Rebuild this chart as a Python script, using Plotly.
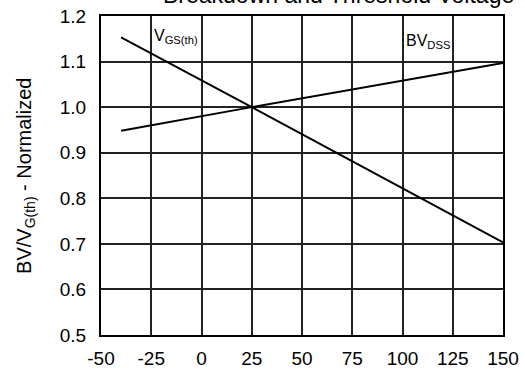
import plotly.graph_objects as go

temp = [-40, 25, 150]
vgs_th = [1.153, 1.0, 0.703]
bv_dss = [0.948, 1.0, 1.097]
x_ticks = [-50, -25, 0, 25, 50, 75, 100, 125, 150]
y_ticks = [0.5, 0.6, 0.7, 0.8, 0.9, 1.0, 1.1, 1.2]

FONT = "Liberation Sans, Arial, sans-serif"

fig = go.Figure()
fig.add_trace(go.Scatter(x=temp, y=vgs_th, mode="lines",
                         line=dict(color="black", width=2), showlegend=False))
fig.add_trace(go.Scatter(x=temp, y=bv_dss, mode="lines",
                         line=dict(color="black", width=2), showlegend=False))

fig.update_layout(
    template="none",
    width=525, height=369,
    margin=dict(l=101, r=22, t=16, b=34),
    paper_bgcolor="white", plot_bgcolor="white",
    font=dict(family=FONT, color="black", size=19),
    xaxis=dict(range=[-50, 150], tickmode="array", tickvals=x_ticks,
               ticktext=[str(v) for v in x_ticks],
               showgrid=True, gridcolor="#222222", gridwidth=2,
               showline=True, linecolor="black", linewidth=2, mirror=True,
               zeroline=False, ticks="outside", ticklen=5, tickcolor="rgba(0,0,0,0)",
               tickfont=dict(size=19)),
    yaxis=dict(range=[0.5, 1.2], tickmode="array", tickvals=y_ticks,
               ticktext=[f"{v:.1f}" for v in y_ticks],
               showgrid=True, gridcolor="#222222", gridwidth=2,
               showline=True, linecolor="black", linewidth=2, mirror=True,
               zeroline=False, ticks="outside", ticklen=9, tickcolor="rgba(0,0,0,0)",
               tickfont=dict(size=19)),
)

fig.add_annotation(text="BV/V<sub>G(th)</sub> - Normalized", xref="paper", yref="paper",
                   x=-0.188, y=0.5, xanchor="center", yanchor="middle", textangle=-90,
                   showarrow=False, font=dict(size=20, family=FONT))
fig.add_annotation(text="Breakdown and Threshold Voltage", xref="paper", yref="paper",
                   x=0.591, y=1, xanchor="center", yanchor="bottom", yshift=6,
                   showarrow=False, font=dict(size=23, family=FONT))
fig.add_annotation(text="V<sub>GS(th)</sub>", x=-24.5, y=1.155, xanchor="left", yanchor="middle",
                   showarrow=False, font=dict(size=16, family=FONT))
fig.add_annotation(text="BV<sub>DSS</sub>", x=100.5, y=1.145, xanchor="left", yanchor="middle",
                   showarrow=False, font=dict(size=16, family=FONT))

fig.write_html("out.html")
